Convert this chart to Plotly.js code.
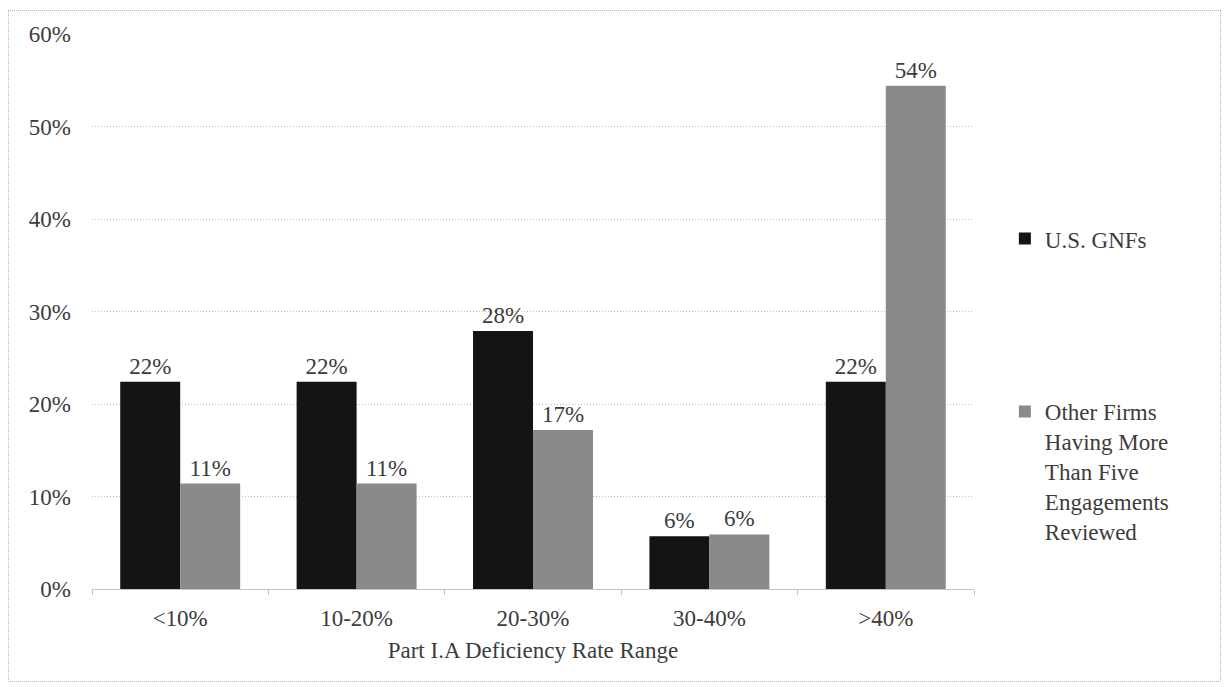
<!DOCTYPE html>
<html>
<head>
<meta charset="utf-8">
<script src="https://cdn.plot.ly/plotly-3.0.1.min.js"></script>
<style>
  html, body { margin: 0; padding: 0; background: #fff; }
  #frame { position: absolute; left: 8px; top: 10px; width: 1211px; height: 670px; border: 1px dotted #b5b5b5; }
  #chart { position: absolute; left: 0; top: 0; width: 1227px; height: 687px; }
</style>
</head>
<body>
<div id="frame"></div>
<div id="chart"></div>
<script>
// Deficiency rate ranges on the category axis
const categories = ['<10%', '10-20%', '20-30%', '30-40%', '>40%'];

// Share of engagements in each range (percent)
const usGnfs = [22.4, 22.4, 27.9, 5.7, 22.4];
const otherFirms = [11.4, 11.4, 17.2, 5.9, 54.4];

const seriesNames = ['U.S. GNFs', 'Other Firms<br>Having More<br>Than Five<br>Engagements<br>Reviewed'];

const yTickVals = [0, 10, 20, 30, 40, 50, 60];
const yTickText = ['0%', '10%', '20%', '30%', '40%', '50%', '60%'];

const serif = "'Liberation Serif', 'Times New Roman', 'DejaVu Serif', serif";
const ink = '#3c3c3c';
const fs = 23;

const traces = [
  {
    type: 'bar', x: categories, y: usGnfs, name: seriesNames[0], legendgroup: 'a',
    marker: { color: '#141414' },
    texttemplate: '%{y:.0f}%', textposition: 'outside', cliponaxis: false,
    textfont: { family: serif, size: fs, color: ink },
    hoverinfo: 'x+y'
  },
  {
    type: 'bar', x: categories, y: otherFirms, name: seriesNames[1], legendgroup: 'b',
    marker: { color: '#8a8a8a' },
    texttemplate: '%{y:.0f}%', textposition: 'outside', cliponaxis: false,
    textfont: { family: serif, size: fs, color: ink },
    hoverinfo: 'x+y'
  }
];

const layout = {
  width: 1227, height: 687,
  margin: { l: 92, r: 253, t: 34, b: 98 },
  paper_bgcolor: 'rgba(0,0,0,0)', plot_bgcolor: '#fff',
  font: { family: serif, size: fs, color: ink },
  barmode: 'group', bargap: 0.32, bargroupgap: 0,
  showlegend: true,
  legend: {
    x: 1.035, xanchor: 'left', y: 0.67, yanchor: 'top',
    valign: 'top', tracegroupgap: 140, traceorder: 'grouped',
    font: { family: serif, size: fs, color: ink },
    itemwidth: 30
  },
  xaxis: {
    type: 'category',
    showgrid: false, zeroline: false,
    showline: true, linecolor: '#c4c4c4', linewidth: 1,
    ticks: 'outside', tickson: 'boundaries', ticklen: 5, tickcolor: '#c4c4c4',
    ticklabelstandoff: 8,
    tickfont: { family: serif, size: fs, color: ink },
    title: { text: 'Part I.A Deficiency Rate Range', standoff: 12, font: { family: serif, size: fs, color: ink } }
  },
  yaxis: {
    range: [0, 60], tickvals: yTickVals, ticktext: yTickText,
    showgrid: true, gridcolor: '#bdbdbd', griddash: '1px,2px', gridwidth: 1,
    zeroline: false, showline: false, ticks: '',
    ticklabelstandoff: 20,
    tickfont: { family: serif, size: fs, color: ink }
  }
};

Plotly.newPlot('chart', traces, layout, { displayModeBar: false, staticPlot: true });
</script>
</body>
</html>
